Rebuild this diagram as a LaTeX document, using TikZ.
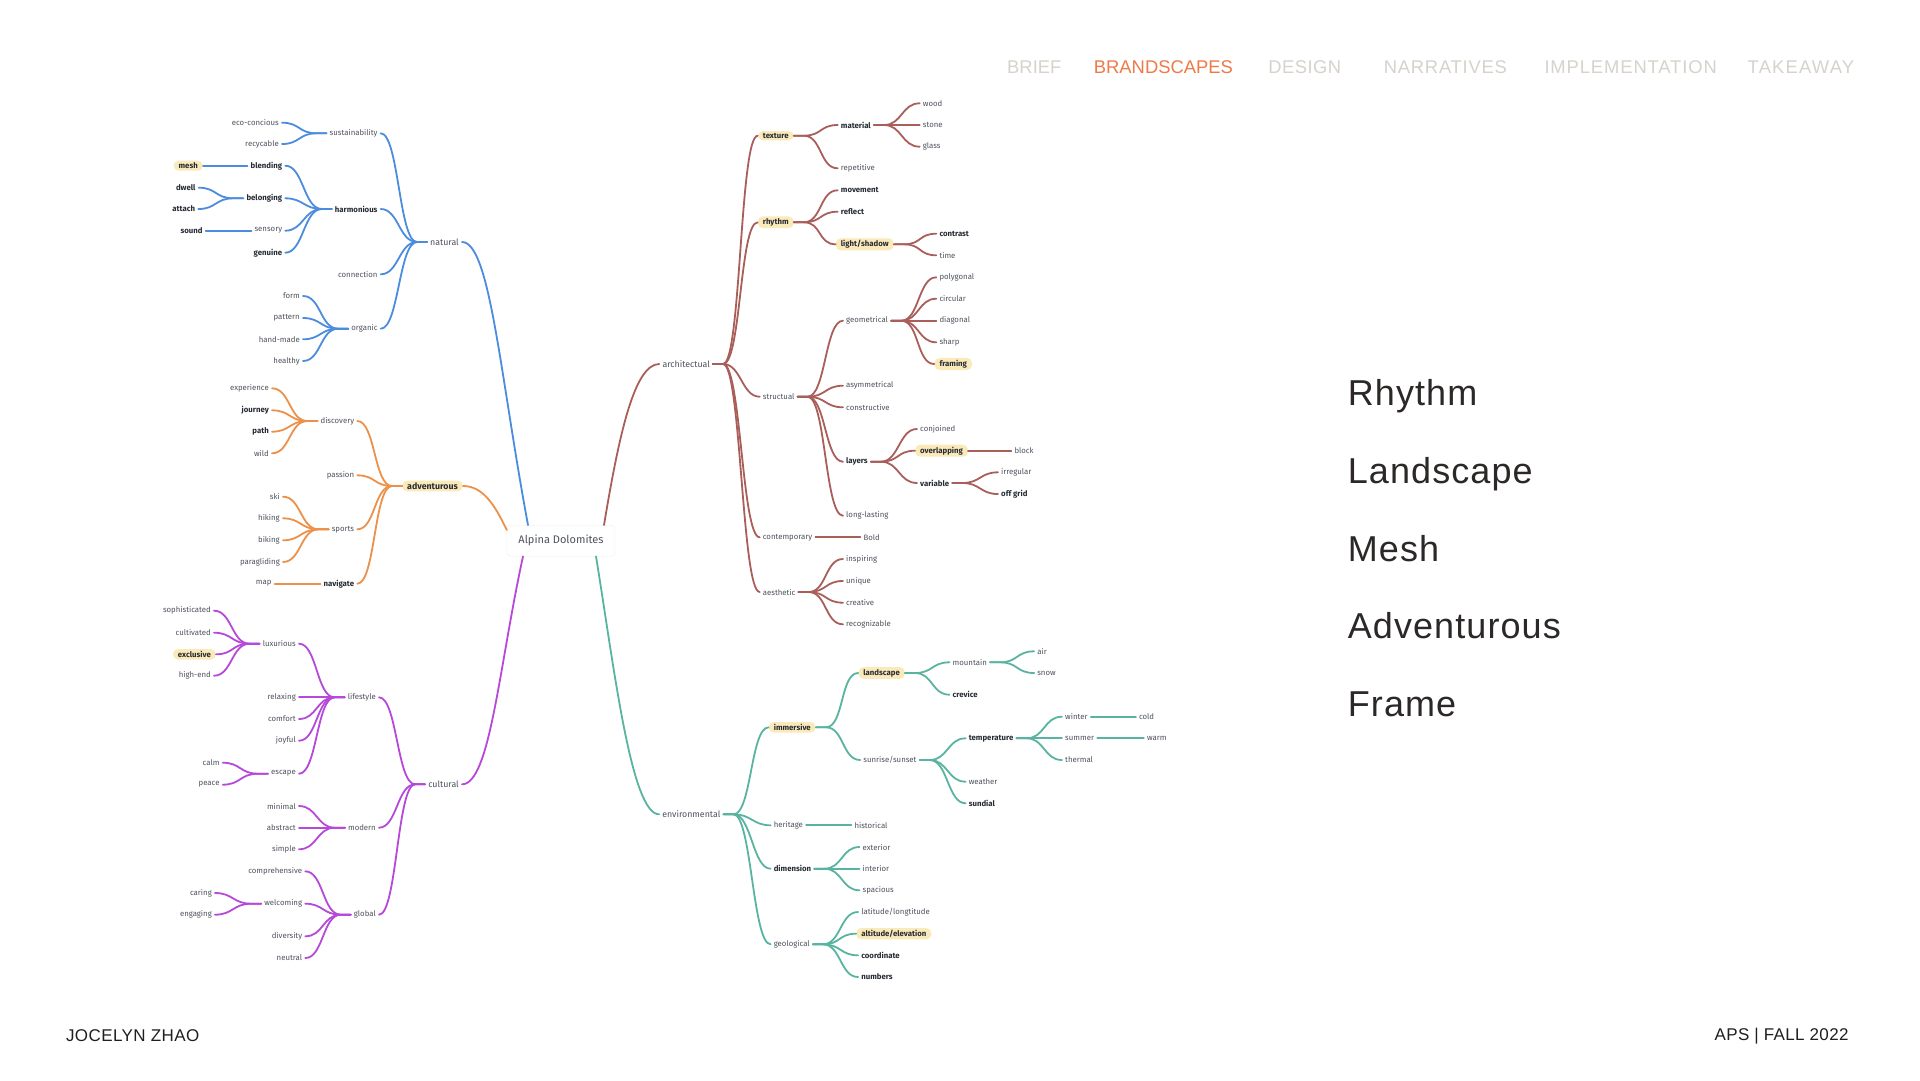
\documentclass[tikz,border=0pt]{standalone}
\usepackage{fontspec}
\setmainfont{Liberation Sans}
\newfontfamily\mapfont{Fira Sans}
\usepackage{xcolor}

\definecolor{cBlue}{RGB}{76,140,222}
\definecolor{cOrange}{RGB}{236,145,75}
\definecolor{cPurple}{RGB}{182,72,218}
\definecolor{cBrown}{RGB}{170,94,90}
\definecolor{cTeal}{RGB}{88,180,160}
\definecolor{hlYellow}{RGB}{250,233,185}
\definecolor{txtGray}{RGB}{78,82,94}
\definecolor{txtDark}{RGB}{38,42,52}
\definecolor{navGray}{RGB}{214,210,204}
\definecolor{navOrange}{RGB}{238,122,72}
\definecolor{headDark}{RGB}{45,40,40}

% links: parent -> child, merging a little off the parent
\newcommand{\leftlink}[3]{\draw[#1] (#2.west) -- ++(-10,0) .. controls +(-18,0) and +(18,0) .. (#3.east);}
\newcommand{\rightlink}[3]{\draw[#1] (#2.east) -- ++(10,0) .. controls +(18,0) and +(-18,0) .. (#3.west);}
\newcommand{\spaced}[2]{{\addfontfeature{LetterSpace=#1}#2}}

\begin{document}
\begin{tikzpicture}[
        x=1pt, y=-1pt,
        lf/.style={font=\mapfont\fontsize{7.8}{9}\selectfont, text=txtGray, inner xsep=3pt, inner ysep=2pt},
        ll/.style={lf, anchor=east},
        rr/.style={lf, anchor=west},
        top/.style={font=\mapfont\fontsize{8.8}{10}\selectfont},
        bf/.style={text=txtDark, execute at begin node=\bfseries},
        hl/.style={fill=hlYellow, rounded corners=5pt, inner xsep=5pt},
        blu/.style={draw=cBlue, line width=1.8pt, line cap=round},
        org/.style={draw=cOrange, line width=1.8pt, line cap=round},
        pur/.style={draw=cPurple, line width=1.8pt, line cap=round},
        brn/.style={draw=cBrown, line width=1.8pt, line cap=round},
        tea/.style={draw=cTeal, line width=1.8pt, line cap=round},
        nav/.style={font=\fontsize{18.4}{20}\selectfont, text=navGray, inner sep=0pt, anchor=west},
        word/.style={font=\fontsize{36}{40}\selectfont, text=headDark, inner sep=0pt, anchor=base west},
        foot/.style={font=\fontsize{17}{19}\selectfont, text=black!88, inner sep=0pt}
    ]

    \fill[white] (0,0) rectangle (1920,1080);
    \useasboundingbox (0,0) rectangle (1920,1080);

    % Header
    \node[nav] (brief) at (1007,66.7) {BRIEF};
    \node[nav, text=navOrange] (brand) at (1093.7,66.7) {BRANDSCAPES};
    \node[nav] (design) at (1268.2,66.7) {\spaced{2.3}{DESIGN}};
    \node[nav] (narr) at (1383.6,66.7) {\spaced{4.2}{NARRATIVES}};
    \node[nav] (impl) at (1544.3,66.7) {\spaced{4.8}{IMPLEMENTATION}};
    \node[nav] (take) at (1747.5,66.7) {\spaced{6.5}{TAKEAWAY}};

    % Centre
    \node[draw=black!7, fill=white, rounded corners=4pt, minimum width=108pt, minimum height=31pt,
          font=\mapfont\fontsize{11}{13}\selectfont, text=txtGray] (alp) at (561,540.7) {Alpina Dolomites};

    % natural
    \node[ll,top] (nat) at (462,242) {natural};
    \node[ll] (sust) at (380.7,133.3) {sustainability};
    \node[ll,bf] (harm) at (380.7,209) {harmonious};
    \node[ll] (conn) at (380.7,274.3) {connection};
    \node[ll] (orga) at (380.7,328.7) {organic};
    \node[ll] (eco) at (282,122.7) {eco-concious};
    \node[ll] (recy) at (282,144) {recycable};
    \node[ll,bf] (blend) at (285.3,165.7) {blending};
    \node[ll,bf] (belong) at (285.3,198.3) {belonging};
    \node[ll] (senso) at (285.3,230.7) {sensory};
    \node[ll,bf] (genu) at (285.3,252.7) {genuine};
    \node[ll,bf,hl] (mesh) at (203,165.7) {mesh};
    \node[ll,bf] (dwell) at (198.7,187.7) {dwell};
    \node[ll,bf] (attach) at (198.3,209) {attach};
    \node[ll,bf] (sound) at (205.7,230.7) {sound};
    \node[ll] (form) at (303,296) {form};
    \node[ll] (patt) at (303,318) {pattern};
    \node[ll] (hand) at (303,339.3) {hand-made};
    \node[ll] (heal) at (303,361) {healthy};

    % adventurous
    \node[ll,top,bf,hl] (adv) at (463,486) {adventurous};
    \node[ll] (disc) at (357.3,421) {discovery};
    \node[ll] (pass) at (357.3,475.3) {passion};
    \node[ll] (spor) at (357.3,529.3) {sports};
    \node[ll,bf] (navi) at (357.3,583.7) {navigate};
    \node[ll] (expe) at (272,388.3) {experience};
    \node[ll,bf] (jour) at (272,410.3) {journey};
    \node[ll,bf] (pth) at (272,431.7) {path};
    \node[ll] (wild) at (272,453.3) {wild};
    \node[ll] (ski) at (283,496.7) {ski};
    \node[ll] (hiki) at (283,518.3) {hiking};
    \node[ll] (biki) at (283,540.3) {biking};
    \node[ll] (para) at (283,562) {paragliding};
    \node[ll] (map) at (274.7,583.7) {map};

    % cultural
    \node[ll,top] (cult) at (462,784.3) {cultural};
    \node[ll] (life) at (379,697.3) {lifestyle};
    \node[ll] (mode) at (379,827.7) {modern};
    \node[ll] (glob) at (379,914.7) {global};
    \node[ll] (luxu) at (299,643.7) {luxurious};
    \node[ll] (rela) at (299,697.3) {relaxing};
    \node[ll] (comf) at (299,719) {comfort};
    \node[ll] (joyf) at (299,740.7) {joyful};
    \node[ll] (esca) at (299,773.7) {escape};
    \node[ll] (soph) at (214,610.7) {sophisticated};
    \node[ll] (cltv) at (214,632.7) {cultivated};
    \node[ll,bf,hl] (excl) at (216,654.3) {exclusive};
    \node[ll] (high) at (214,675.7) {high-end};
    \node[ll] (calm) at (222.7,762.7) {calm};
    \node[ll] (peac) at (222.7,784.7) {peace};
    \node[ll] (mini) at (299,806) {minimal};
    \node[ll] (abst) at (299,827.7) {abstract};
    \node[ll] (simp) at (299,849.3) {simple};
    \node[ll] (comp) at (305.3,871.3) {comprehensive};
    \node[ll] (welc) at (305.3,903.7) {welcoming};
    \node[ll] (dive) at (305.3,936.3) {diversity};
    \node[ll] (neut) at (305.3,958) {neutral};
    \node[ll] (cari) at (215,893) {caring};
    \node[ll] (enga) at (215,914.7) {engaging};

    % architectual
    \node[rr,top] (arch) at (659.3,364) {architectual};
    \node[rr,bf,hl] (txtr) at (757.7,135.7) {texture};
    \node[rr,bf,hl] (rhyt) at (757.7,222.3) {rhythm};
    \node[rr] (stru) at (759.7,396.7) {structual};
    \node[rr] (ctmp) at (759.7,537.3) {contemporary};
    \node[rr] (aest) at (759.7,592) {aesthetic};
    \node[rr,bf] (mate) at (837.7,125) {material};
    \node[rr] (repe) at (837.7,168.3) {repetitive};
    \node[rr] (wood) at (919.7,103.3) {wood};
    \node[rr] (ston) at (919.7,125) {stone};
    \node[rr] (glas) at (919.7,146.7) {glass};
    \node[rr,bf] (move) at (837.7,190.3) {movement};
    \node[rr,bf] (refl) at (837.7,211.7) {reflect};
    \node[rr,bf,hl] (ligh) at (835.7,244.3) {light/shadow};
    \node[rr,bf] (ctrs) at (936.3,233.7) {contrast};
    \node[rr] (time) at (936.3,255.3) {time};
    \node[rr] (geom) at (843,320.7) {geometrical};
    \node[rr] (poly) at (936.3,277.3) {polygonal};
    \node[rr] (circ) at (936.3,298.7) {circular};
    \node[rr] (diag) at (936.3,320.7) {diagonal};
    \node[rr] (shar) at (936.3,342.3) {sharp};
    \node[rr,bf,hl] (fram) at (934.3,364) {framing};
    \node[rr] (asym) at (843,385.7) {asymmetrical};
    \node[rr] (cons) at (843,407.3) {constructive};
    \node[rr,bf] (laye) at (843,461.7) {layers};
    \node[rr] (lnglst) at (843,515.7) {long-lasting};
    \node[rr] (conj) at (917,429) {conjoined};
    \node[rr,bf,hl] (over) at (915,450.7) {overlapping};
    \node[rr] (blck) at (1011.3,450.7) {block};
    \node[rr,bf] (vari) at (917,483) {variable};
    \node[rr] (irre) at (998,472.3) {irregular};
    \node[rr,bf] (offg) at (998,494) {off grid};
    \node[rr] (bold) at (860.3,537.3) {Bold};
    \node[rr] (insp) at (843,559) {inspiring};
    \node[rr] (uniq) at (843,581) {unique};
    \node[rr] (crea) at (843,602.7) {creative};
    \node[rr] (reco) at (843,624.3) {recognizable};

    % environmental
    \node[rr,top] (envi) at (659.1,814.3) {environmental};
    \node[rr,bf,hl] (imme) at (768.6,727.3) {immersive};
    \node[rr] (heri) at (770.6,825.3) {heritage};
    \node[rr,bf] (dime) at (770.6,868.7) {dimension};
    \node[rr] (geol) at (770.6,944.3) {geological};
    \node[rr,bf,hl] (land) at (858.2,673) {landscape};
    \node[rr] (sunr) at (860.2,760) {sunrise/sunset};
    \node[rr] (moun) at (949.5,662.3) {mountain};
    \node[rr,bf] (crev) at (949.5,694.7) {crevice};
    \node[rr] (air) at (1034.1,651.3) {air};
    \node[rr] (snow) at (1034.1,673) {snow};
    \node[rr,bf] (temp) at (965.6,738.3) {temperature};
    \node[rr] (weat) at (965.6,781.7) {weather};
    \node[rr,bf] (sund) at (965.6,803.3) {sundial};
    \node[rr] (wint) at (1062,716.7) {winter};
    \node[rr] (summ) at (1062,738.3) {summer};
    \node[rr] (ther) at (1062,760) {thermal};
    \node[rr] (cold) at (1135.9,716.7) {cold};
    \node[rr] (warm) at (1143.8,738.3) {warm};
    \node[rr] (hist) at (851.3,825.3) {historical};
    \node[rr] (exte) at (859.5,847) {exterior};
    \node[rr] (inte) at (859.5,868.7) {interior};
    \node[rr] (spac) at (859.5,890.3) {spacious};
    \node[rr] (lati) at (858.1,912) {latitude/longtitude};
    \node[rr,bf,hl] (alti) at (856.1,933.7) {altitude/elevation};
    \node[rr,bf] (coor) at (858.1,955.3) {coordinate};
    \node[rr,bf] (numb) at (858.1,977) {numbers};

    % Main branches
    \draw[blu] (nat.east) .. controls +(28,0) and +(-28,-150) .. ([xshift=-33pt]alp.north);
    \draw[org] (adv.east) .. controls +(20,0) and +(-12,-25) .. ([yshift=-5pt]alp.north west);
    \draw[pur] (cult.east) .. controls +(28,0) and +(-24,110) .. ([xshift=-38pt]alp.south);
    \draw[brn] (arch.west) .. controls +(-25,0) and +(15,-90) .. ([xshift=43pt]alp.north);
    \draw[tea] (envi.west) .. controls +(-28,0) and +(18,110) .. ([xshift=35pt]alp.south);

    % Sub branches
    \foreach \c in {sust,harm,conn,orga} {\leftlink{blu}{nat}{\c}}
    \foreach \c in {eco,recy} {\leftlink{blu}{sust}{\c}}
    \foreach \c in {blend,belong,senso,genu} {\leftlink{blu}{harm}{\c}}
    \leftlink{blu}{blend}{mesh}
    \foreach \c in {dwell,attach} {\leftlink{blu}{belong}{\c}}
    \leftlink{blu}{senso}{sound}
    \foreach \c in {form,patt,hand,heal} {\leftlink{blu}{orga}{\c}}

    \foreach \c in {disc,pass,spor,navi} {\leftlink{org}{adv}{\c}}
    \foreach \c in {expe,jour,pth,wild} {\leftlink{org}{disc}{\c}}
    \foreach \c in {ski,hiki,biki,para} {\leftlink{org}{spor}{\c}}
    \leftlink{org}{navi}{map}

    \foreach \c in {life,mode,glob} {\leftlink{pur}{cult}{\c}}
    \foreach \c in {luxu,rela,comf,joyf,esca} {\leftlink{pur}{life}{\c}}
    \foreach \c in {soph,cltv,excl,high} {\leftlink{pur}{luxu}{\c}}
    \foreach \c in {calm,peac} {\leftlink{pur}{esca}{\c}}
    \foreach \c in {mini,abst,simp} {\leftlink{pur}{mode}{\c}}
    \foreach \c in {comp,welc,dive,neut} {\leftlink{pur}{glob}{\c}}
    \foreach \c in {cari,enga} {\leftlink{pur}{welc}{\c}}

    \foreach \c in {txtr,rhyt,stru,ctmp,aest} {\rightlink{brn}{arch}{\c}}
    \foreach \c in {mate,repe} {\rightlink{brn}{txtr}{\c}}
    \foreach \c in {wood,ston,glas} {\rightlink{brn}{mate}{\c}}
    \foreach \c in {move,refl,ligh} {\rightlink{brn}{rhyt}{\c}}
    \foreach \c in {ctrs,time} {\rightlink{brn}{ligh}{\c}}
    \foreach \c in {geom,asym,cons,laye,lnglst} {\rightlink{brn}{stru}{\c}}
    \foreach \c in {poly,circ,diag,shar,fram} {\rightlink{brn}{geom}{\c}}
    \foreach \c in {conj,over,vari} {\rightlink{brn}{laye}{\c}}
    \rightlink{brn}{over}{blck}
    \foreach \c in {irre,offg} {\rightlink{brn}{vari}{\c}}
    \rightlink{brn}{ctmp}{bold}
    \foreach \c in {insp,uniq,crea,reco} {\rightlink{brn}{aest}{\c}}

    \foreach \c in {imme,heri,dime,geol} {\rightlink{tea}{envi}{\c}}
    \foreach \c in {land,sunr} {\rightlink{tea}{imme}{\c}}
    \foreach \c in {moun,crev} {\rightlink{tea}{land}{\c}}
    \foreach \c in {air,snow} {\rightlink{tea}{moun}{\c}}
    \foreach \c in {temp,weat,sund} {\rightlink{tea}{sunr}{\c}}
    \foreach \c in {wint,summ,ther} {\rightlink{tea}{temp}{\c}}
    \rightlink{tea}{wint}{cold}
    \rightlink{tea}{summ}{warm}
    \rightlink{tea}{heri}{hist}
    \foreach \c in {exte,inte,spac} {\rightlink{tea}{dime}{\c}}
    \foreach \c in {lati,alti,coor,numb} {\rightlink{tea}{geol}{\c}}

    % Key words
    \node[word] (w1) at (1347.7,405) {\spaced{3}{Rhythm}};
    \node[word] (w2) at (1347.7,483.3) {\spaced{3}{Landscape}};
    \node[word] (w3) at (1347.7,561.7) {\spaced{3}{Mesh}};
    \node[word] (w4) at (1347.7,638.3) {\spaced{3}{Adventurous}};
    \node[word] (w5) at (1347.7,716.7) {\spaced{3}{Frame}};

    % Footer
    \node[foot, anchor=west] (name) at (65.8,1035.7) {\spaced{2.5}{JOCELYN ZHAO}};
    \node[foot, anchor=east] (term) at (1848.7,1035.7) {\spaced{2}{APS | FALL 2022}};

    \end{tikzpicture}
\end{document}
